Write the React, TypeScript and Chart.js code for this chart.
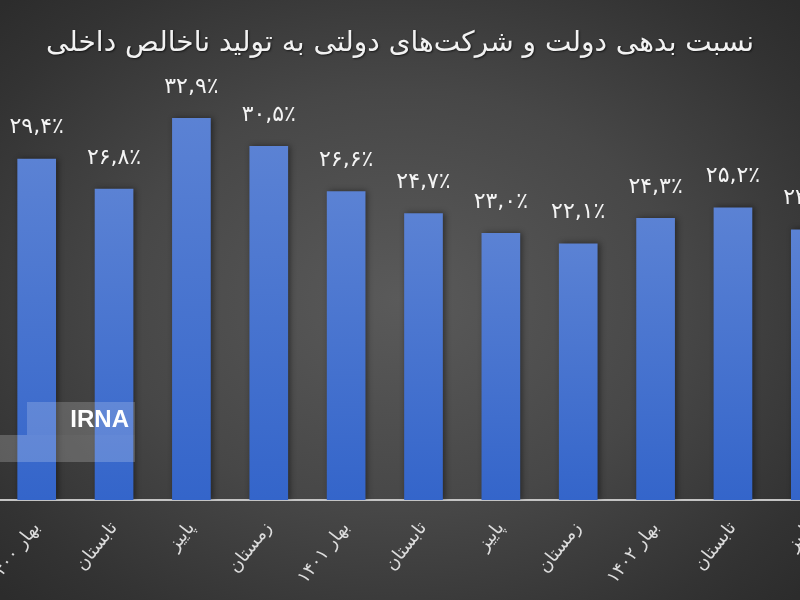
import React, { useEffect, useRef } from "react";
import { Chart, registerables } from "chart.js";

Chart.register(...registerables);

const chartTitle = "نسبت بدهی دولت و شرکت‌های دولتی به تولید ناخالص داخلی";
const categories = [
  "بهار ۱۴۰۰",
  "تابستان",
  "پاییز",
  "زمستان",
  "بهار ۱۴۰۱",
  "تابستان",
  "پاییز",
  "زمستان",
  "بهار ۱۴۰۲",
  "تابستان",
  "پاییز",
];
const debtRatio = [29.4, 26.8, 32.9, 30.5, 26.6, 24.7, 23.0, 22.1, 24.3, 25.2, 23.3];

const faDigits = "۰۱۲۳۴۵۶۷۸۹";
function toFa(v: number): string {
  return (
    v
      .toFixed(1)
      .replace(/[0-9]/g, (d) => faDigits[Number(d)])
      .replace(".", ",") + "٪"
  );
}

const valueLabels = {
  id: "valueLabels",
  afterDatasetsDraw(chart: any) {
    const ctx = chart.ctx;
    const meta = chart.getDatasetMeta(0);
    ctx.save();
    ctx.font = "22px 'DejaVu Sans'";
    ctx.fillStyle = "#f4f4f4";
    ctx.textAlign = "center";
    ctx.textBaseline = "middle";
    ctx.direction = "ltr";
    meta.data.forEach((bar: any, i: number) => {
      ctx.fillText(toFa(debtRatio[i]), bar.x, bar.y - 31);
    });
    ctx.restore();
  },
};

const barShadow = {
  id: "barShadow",
  beforeDatasetsDraw(chart: any) {
    const ctx = chart.ctx;
    ctx.save();
    ctx.shadowColor = "rgba(0,0,0,0.45)";
    ctx.shadowBlur = 6;
    ctx.shadowOffsetX = 2;
    ctx.shadowOffsetY = 0;
  },
  afterDatasetsDraw(chart: any) {
    chart.ctx.restore();
  },
};

export default function App() {
  const ref = useRef<HTMLCanvasElement | null>(null);

  useEffect(() => {
    if (!ref.current) return;
    const chart = new Chart(ref.current, {
      type: "bar",
      data: {
        labels: categories,
        datasets: [
          {
            data: debtRatio,
            backgroundColor: (c: any) => {
              const ch = c.chart;
              const area = ch.chartArea;
              if (!area || c.raw == null) return "#4572cc";
              const yTop = ch.scales.y.getPixelForValue(c.raw);
              const g = ch.ctx.createLinearGradient(0, yTop, 0, area.bottom);
              g.addColorStop(0, "#5b82d4");
              g.addColorStop(1, "#3465ca");
              return g;
            },
            borderWidth: 0,
            categoryPercentage: 1,
            barPercentage: 0.5,
          },
        ],
      },
      options: {
        responsive: false,
        animation: false,
        layout: { padding: { top: 60, left: 0, right: 0, bottom: 0 } },
        plugins: {
          legend: { display: false },
          tooltip: { enabled: false },
          title: { display: false },
        },
        scales: {
          x: {
            grid: { display: false },
            border: { display: true, color: "#c4c4c4", width: 2 },
            ticks: {
              color: "#dcdcdc",
              font: { family: "'DejaVu Sans'", size: 18 },
              minRotation: 52,
              maxRotation: 52,
              padding: 10,
              autoSkip: false,
            },
            afterFit: (scale: any) => {
              scale.height = 100;
              scale.paddingLeft = 0;
              scale.paddingRight = 0;
            },
          },
          y: {
            display: false,
            min: 0,
            max: 37.9,
          },
        },
      },
      plugins: [barShadow, valueLabels],
    });
    return () => chart.destroy();
  }, []);

  return (
    <div
      style={{
        position: "fixed",
        left: 0,
        top: 0,
        width: 800,
        height: 600,
        overflow: "hidden",
        background:
          "radial-gradient(ellipse 70% 70% at 50% 50%, #5a5a5a 0%, #474747 50%, #333333 85%, #2c2c2c 100%)",
      }}
    >
      <canvas
        ref={ref}
        width={851}
        height={600}
        style={{ position: "absolute", left: -2, top: 0, width: 851, height: 600 }}
      />
      <div
        style={{
          position: "absolute",
          left: 0,
          top: 22,
          width: 800,
          textAlign: "center",
          direction: "rtl",
          fontFamily: "'DejaVu Sans'",
          fontSize: 28,
          lineHeight: "40px",
          color: "#f2f2f2",
          textShadow: "1px 1px 2px rgba(0,0,0,0.6)",
        }}
      >
        {chartTitle}
      </div>
      <div
        style={{
          position: "absolute",
          left: 27,
          top: 402,
          width: 108,
          height: 33,
          background: "rgba(255,255,255,0.18)",
          color: "#ffffff",
          fontFamily: "'Liberation Sans', Arial, sans-serif",
          fontWeight: 700,
          fontSize: 24,
          lineHeight: "33px",
          textAlign: "right",
          paddingRight: 6,
          boxSizing: "border-box",
        }}
      >
        IRNA
      </div>
      <div
        style={{
          position: "absolute",
          left: 0,
          top: 435,
          width: 135,
          height: 27,
          background: "rgba(255,255,255,0.2)",
        }}
      />
    </div>
  );
}
